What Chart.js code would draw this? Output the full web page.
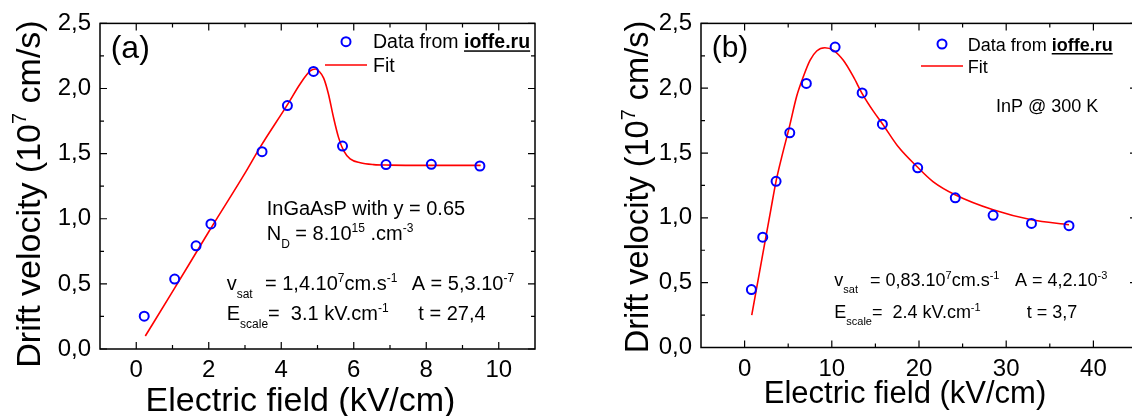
<!DOCTYPE html>
<html>
<head>
<meta charset="utf-8">
<script src="https://cdn.jsdelivr.net/npm/chart.js@4.4.0/dist/chart.umd.min.js"></script>
<style>
  html, body { margin: 0; padding: 0; width: 1132px; height: 416px; overflow: hidden; background: #fff; }
  canvas { position: absolute; top: 0; }
  #chartA { left: 0; }
  #chartB { left: 560px; }
</style>
</head>
<body>
<canvas id="chartA" width="560" height="416"></canvas>
<canvas id="chartB" width="600" height="416"></canvas>
<script>
// (a) InGaAsP, y = 0.65
const fieldA = [0.22, 1.06, 1.65, 2.06, 3.47, 4.17, 4.89, 5.69, 6.89, 8.14, 9.48];
const velA = [0.252, 0.537, 0.792, 0.96, 1.515, 1.869, 2.131, 1.558, 1.416, 1.418, 1.405];
const fitFieldA = [0.25, 1.0, 2.0, 3.0, 3.42, 4.18, 4.52, 4.8, 4.94, 5.05, 5.17, 5.3, 5.44, 5.58, 5.72, 5.9, 6.18, 6.55, 7.0, 8.0, 9.0, 9.5];
const fitVelA = [0.10, 0.44, 0.90, 1.35, 1.55, 1.88, 2.035, 2.135, 2.15, 2.13, 2.08, 1.96, 1.78, 1.625, 1.523, 1.46, 1.43, 1.416, 1.412, 1.41, 1.41, 1.41];
const xTicksA = [0, 2, 4, 6, 8, 10];
const xMinorA = [0, 1, 2, 3, 4, 5, 6, 7, 8, 9, 10];

// (b) InP @ 300 K
const fieldB = [0.78, 2.08, 3.61, 5.18, 7.08, 10.38, 13.48, 15.8, 19.85, 24.16, 28.5, 32.9, 37.2];
const velB = [0.447, 0.851, 1.282, 1.656, 2.037, 2.317, 1.964, 1.723, 1.386, 1.155, 1.02, 0.957, 0.94];
const fitFieldB = [0.82, 2.0, 3.0, 3.6, 4.26, 5.13, 5.98, 6.74, 7.5, 8.27, 9.2, 10.18, 11.32, 12.47, 13.5, 14.76, 15.8, 17.6, 19.85, 21.6, 24.2, 28.5, 32.9, 37.2];
const fitVelB = [0.25, 0.69, 1.06, 1.28, 1.47, 1.70, 1.94, 2.09, 2.215, 2.287, 2.312, 2.292, 2.215, 2.089, 1.957, 1.823, 1.726, 1.55, 1.39, 1.28, 1.176, 1.062, 0.985, 0.947];
const xTicksB = [0, 10, 20, 30, 40];
const xMinorB = [0, 5, 10, 15, 20, 25, 30, 35, 40];

const yTicks = [0, 0.5, 1, 1.5, 2, 2.5];
const yMinor = [0, 0.25, 0.5, 0.75, 1, 1.25, 1.5, 1.75, 2, 2.25, 2.5];

const FONT = '"Liberation Sans", Arial, Helvetica, sans-serif';

// draws text made of pieces, some raised or lowered
function rich(ctx, x, y, parts, size, align) {
  const fontOf = k => (k ? Math.round(size * 0.6) : size) + 'px ' + FONT;
  let w = 0;
  for (const [t, k] of parts) { ctx.font = fontOf(k); w += ctx.measureText(t).width; }
  let cx = align === 'center' ? x - w / 2 : x;
  for (const [t, k] of parts) {
    ctx.font = fontOf(k);
    const dy = k === 'sup' ? -size * 0.4 : k === 'sub' ? size * 0.4 : 0;
    ctx.fillText(t, cx, y + dy);
    cx += ctx.measureText(t).width;
  }
}

const panelPlugin = {
  id: 'panel',
  afterDraw(chart, args, o) {
    const { ctx, chartArea: a } = chart;
    const sx = chart.scales.x, sy = chart.scales.y;
    ctx.save();

    // box and inward ticks
    ctx.strokeStyle = '#000';
    ctx.lineWidth = 1.5;
    ctx.strokeRect(a.left, a.top, a.right - a.left, a.bottom - a.top);
    ctx.lineWidth = 1.2;
    ctx.beginPath();
    o.xMinor.forEach(v => {
      const p = sx.getPixelForValue(v);
      const len = o.xMajor.includes(v) ? 7 : 4;
      ctx.moveTo(p, a.bottom); ctx.lineTo(p, a.bottom - len);
      ctx.moveTo(p, a.top); ctx.lineTo(p, a.top + len);
    });
    yMinor.forEach(v => {
      const p = sy.getPixelForValue(v);
      const len = yTicks.includes(v) ? 7 : 4;
      ctx.moveTo(a.left, p); ctx.lineTo(a.left + len, p);
      ctx.moveTo(a.right, p); ctx.lineTo(a.right - len, p);
    });
    ctx.stroke();

    ctx.fillStyle = '#000';
    ctx.textAlign = 'left';
    ctx.textBaseline = 'alphabetic';

    // axis titles
    ctx.save();
    ctx.translate(o.yTitle.x, o.yTitle.y);
    ctx.rotate(-Math.PI / 2);
    rich(ctx, 0, 0, [['Drift velocity (10', ''], ['7', 'sup'], [' cm/s)', '']], o.yTitle.size, 'center');
    ctx.restore();
    rich(ctx, o.xTitle.x, o.xTitle.y, [['Electric field (kV/cm)', '']], o.xTitle.size, 'center');

    // panel tag
    rich(ctx, o.tag.x, o.tag.y, [[o.tag.text, '']], o.tag.size, 'left');

    // legend
    const lg = o.legend;
    const dots = chart.data.datasets[0], fit = chart.data.datasets[1];
    ctx.strokeStyle = dots.borderColor;
    ctx.lineWidth = dots.borderWidth;
    ctx.beginPath();
    ctx.arc(lg.x, lg.y1, dots.pointRadius, 0, Math.PI * 2);
    ctx.stroke();
    ctx.strokeStyle = fit.borderColor;
    ctx.lineWidth = fit.borderWidth;
    ctx.beginPath();
    ctx.moveTo(lg.x - 21, lg.y2); ctx.lineTo(lg.x + 21, lg.y2);
    ctx.stroke();
    ctx.font = lg.size + 'px ' + FONT;
    ctx.fillText('Data from ', lg.tx, lg.b1);
    const w1 = ctx.measureText('Data from ').width;
    ctx.font = 'bold ' + lg.size + 'px ' + FONT;
    ctx.fillText('ioffe.ru', lg.tx + w1, lg.b1);
    const w2 = ctx.measureText('ioffe.ru').width;
    ctx.fillRect(lg.tx + w1, lg.b1 + 2, w2, 1.5);
    ctx.font = lg.size + 'px ' + FONT;
    ctx.fillText('Fit', lg.tx, lg.b2);

    // notes
    o.notes.forEach(n => rich(ctx, n.x, n.y, n.parts, o.noteSize, 'left'));
    ctx.restore();
  }
};

function makeChart(id, p) {
  return new Chart(document.getElementById(id), {
    type: 'scatter',
    data: {
      datasets: [{
        label: 'Data from ioffe.ru',
        data: p.xs.map((x, i) => ({ x: x, y: p.ys[i] })),
        showLine: false,
        pointStyle: 'circle',
        pointRadius: 4.5,
        borderColor: '#0000ff',
        backgroundColor: 'rgba(0,0,0,0)',
        borderWidth: 2,
        order: 0
      }, {
        label: 'Fit',
        data: p.fx.map((x, i) => ({ x: x, y: p.fy[i] })),
        showLine: true,
        pointRadius: 0,
        borderColor: '#ff0000',
        borderWidth: 1.6,
        cubicInterpolationMode: 'monotone',
        order: 1
      }]
    },
    options: {
      responsive: false,
      animation: false,
      layout: { padding: { top: p.top, right: p.right, left: 0, bottom: 0 } },
      plugins: { legend: { display: false }, tooltip: { enabled: false }, panel: p.panel },
      scales: {
        x: {
          type: 'linear', min: p.xmin, max: p.xmax,
          grid: { display: false, drawTicks: false }, border: { display: false },
          afterBuildTicks: s => { s.ticks = p.xTicks.map(v => ({ value: v })); },
          afterFit: s => { s.height = p.xh; },
          ticks: { color: '#000', font: { size: 24, family: FONT }, padding: 7, maxRotation: 0, autoSkip: false,
                   callback: v => String(v) }
        },
        y: {
          type: 'linear', min: 0, max: 2.5,
          grid: { display: false, drawTicks: false }, border: { display: false },
          afterBuildTicks: s => { s.ticks = yTicks.map(v => ({ value: v })); },
          afterFit: s => { s.width = p.yw; },
          ticks: { color: '#000', font: { size: 24, family: FONT }, padding: 9, autoSkip: false,
                   callback: v => v.toFixed(1).replace('.', ',') }
        }
      }
    },
    plugins: [panelPlugin]
  });
}

makeChart('chartA', {
  xs: fieldA, ys: velA, fx: fitFieldA, fy: fitVelA, xTicks: xTicksA,
  xmin: -1, xmax: 11, top: 22, right: 25, xh: 67, yw: 100,
  panel: {
    xMajor: xTicksA, xMinor: xMinorA,
    yTitle: { x: 39.5, y: 194, size: 34 },
    xTitle: { x: 300.5, y: 411, size: 34 },
    tag: { text: '(a)', x: 110.7, y: 58, size: 32 },
    legend: { x: 346, y1: 41.7, y2: 65, tx: 373, b1: 48.3, b2: 71.7, size: 19.5 },
    noteSize: 20,
    notes: [
      { x: 266.7, y: 215, parts: [['InGaAsP with y = 0.65', '']] },
      { x: 266.7, y: 240, parts: [['N', ''], ['D', 'sub'], [' = 8.10', ''], ['15', 'sup'], [' .cm', ''], ['-3', 'sup']] },
      { x: 226.7, y: 290, parts: [['v', ''], ['sat', 'sub']] },
      { x: 265, y: 290, parts: [['= 1,4.10', ''], ['7', 'sup'], ['cm.s', ''], ['-1', 'sup']] },
      { x: 411.7, y: 290, parts: [['A = 5,3.10', ''], ['-7', 'sup']] },
      { x: 226.7, y: 320, parts: [['E', ''], ['scale', 'sub'], ['=  3.1 kV.cm', ''], ['-1', 'sup']] },
      { x: 418.3, y: 320, parts: [['t = 27,4', '']] }
    ]
  }
});

makeChart('chartB', {
  xs: fieldB, ys: velB, fx: fitFieldB, fy: fitVelB, xTicks: xTicksB,
  xmin: -5, xmax: 45, top: 19.3, right: 23, xh: 68.5, yw: 141,
  panel: {
    xMajor: xTicksB, xMinor: xMinorB,
    yTitle: { x: 88, y: 187, size: 32.5 },
    xTitle: { x: 345, y: 403, size: 31 },
    tag: { text: '(b)', x: 151.7, y: 57, size: 30 },
    legend: { x: 382, y1: 44, y2: 66, tx: 407.7, b1: 51, b2: 73.3, size: 18 },
    noteSize: 18,
    notes: [
      { x: 436, y: 112, parts: [['InP @ 300 K', '']] },
      { x: 274.3, y: 286, parts: [['v', ''], ['sat', 'sub']] },
      { x: 310, y: 286, parts: [['= 0,83.10', ''], ['7', 'sup'], ['cm.s', ''], ['-1', 'sup']] },
      { x: 455, y: 286, parts: [['A = 4,2.10', ''], ['-3', 'sup']] },
      { x: 274.3, y: 318, parts: [['E', ''], ['scale', 'sub'], ['=  2.4 kV.cm', ''], ['-1', 'sup']] },
      { x: 466.7, y: 318, parts: [['t = 3,7', '']] }
    ]
  }
});
</script>
</body>
</html>
